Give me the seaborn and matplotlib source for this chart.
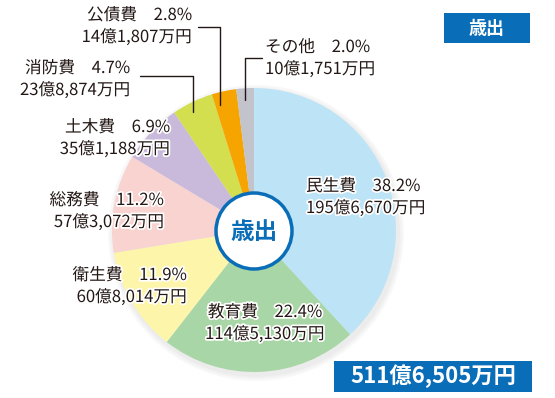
import matplotlib
matplotlib.use("Agg")
import matplotlib.pyplot as plt
import matplotlib.patheffects as pe
from matplotlib.patches import Circle, Rectangle
import seaborn as sns

sns.set_style("white")
plt.rcParams['font.family'] = ['Noto Sans CJK JP', 'DejaVu Sans']

categories = ["民生費", "教育費", "衛生費", "総務費", "土木費", "消防費", "公債費", "その他"]
percents = [38.2, 22.4, 11.9, 11.2, 6.9, 4.7, 2.8, 2.0]
amounts = ["195億6,670万円", "114億5,130万円", "60億8,014万円", "57億3,072万円",
           "35億1,188万円", "23億8,874万円", "14億1,807万円", "10億1,751万円"]
colors = ["#bde3f6", "#a9d6a6", "#fdf6aa", "#f8d3cf", "#c9badb", "#d3df4e", "#f5a400", "#c2c3cb"]
total_label = "511億6,505万円"
title_label = "歳出"

W, H = 555, 398
fig = plt.figure(figsize=(W / 100, H / 100), dpi=100)
ax = fig.add_axes([0, 0, 1, 1])

cx, cy, r = 254, H - 230, 142

# soft shadow
for i, a in enumerate([0.05, 0.05, 0.05]):
    ax.add_patch(Circle((cx + 2, cy - 3), r + 2 + i * 2, color="#888888", alpha=a, lw=0, zorder=0))

ax.pie(percents, colors=colors, startangle=90, counterclock=False,
       center=(cx, cy), radius=r, wedgeprops=dict(linewidth=0), frame=True)
ax.set_xlim(0, W)
ax.set_ylim(0, H)
ax.set_aspect("equal")
ax.axis("off")

# center circle
ax.add_patch(Circle((cx, cy - 1), 38, facecolor="white", edgecolor="#0a6db7", lw=2.5, zorder=5))
ax.text(cx, cy - 2, title_label, ha="center", va="center", fontsize=17, fontweight="bold",
        color="#0a6db7", zorder=6)

halo = [pe.withStroke(linewidth=2.5, foreground="white")]
tc = "#231815"
fs = 12

# label positions (x, y of line1 baseline in pixel coords, alignment)
label_pos = {
    "民生費": (306, 191, "left"),
    "教育費": (265, 317, "center"),
    "衛生費": (187, 280, "right"),
    "総務費": (164, 205, "right"),
    "土木費": (170, 132, "right"),
    "消防費": (130, 73, "right"),
    "公債費": (192, 20, "right"),
    "その他": (265, 52, "left"),
}

for cat, pct, amt in zip(categories, percents, amounts):
    x, y, ha = label_pos[cat]
    ax.text(x, H - y, f"{cat}　{pct:.1f}%", ha=ha, va="baseline", fontsize=fs, color=tc,
            path_effects=halo, zorder=7)
    ax.text(x, H - y - 22, amt, ha=ha, va="baseline", fontsize=fs, color=tc,
            path_effects=halo, zorder=7)

# leader lines (pixel coords)
leaders = [
    [(198, 27), (220, 27), (220, 105)],
    [(262, 58), (245, 58), (245, 100)],
    [(140, 76), (193, 76), (193, 112)],
]
for pts in leaders:
    xs = [p[0] for p in pts]
    ys = [H - p[1] for p in pts]
    ax.plot(xs, ys, color="#231815", lw=1.0, zorder=4)

# top-right box
ax.add_patch(Rectangle((444, H - 43), 86, 30, facecolor="#0a6db7", edgecolor="none", zorder=8))
ax.text(487, H - 28, title_label, ha="center", va="center", fontsize=13, fontweight="bold",
        color="white", zorder=9)

# bottom-right total box
ax.add_patch(Rectangle((334, H - 392), 198, 31, facecolor="#0a6db7", edgecolor="none", zorder=8))
ax.text(433, H - 376.5, total_label, ha="center", va="center", fontsize=16, fontweight="bold",
        color="white", zorder=9)

fig.savefig("out.png", dpi=100)
